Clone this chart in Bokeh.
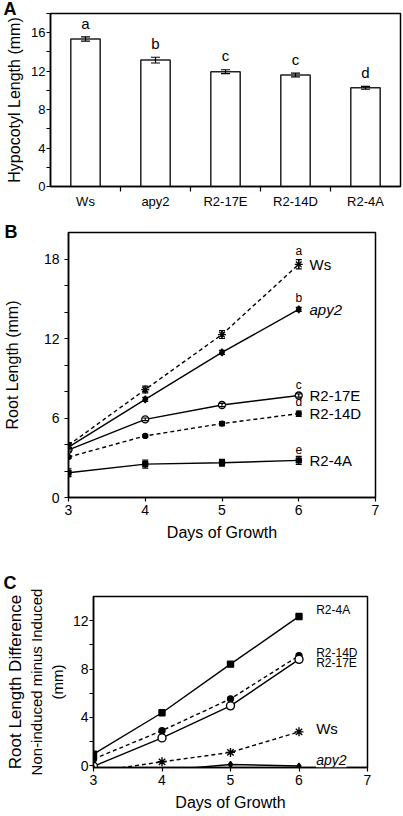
import math
from bokeh.plotting import figure
from bokeh.models import (Range1d, FixedTicker, ColumnDataSource, Whisker, TeeHead, Label,
                          LinearAxis, Title)
from bokeh.embed import file_html
from bokeh.resources import INLINE
from bokeh.core.properties import value

FONT = "Liberation Sans"

# ---------------- Panel A data ----------------
a_categories = ["Ws", "apy2", "R2-17E", "R2-14D", "R2-4A"]
a_hypocotyl = [15.35, 13.15, 11.95, 11.6, 10.27]
a_errors = [0.22, 0.3, 0.2, 0.2, 0.15]
a_letters = ["a", "b", "c", "c", "d"]
a_yticks = [0, 4, 8, 12, 16]
a_yminor = [2, 6, 10, 14, 18]

# ---------------- Panel B data ----------------
days = [3, 4, 5, 6]
day_ticks = [3, 4, 5, 6, 7]
b_ws = [3.95, 8.15, 12.3, 17.6]
b_ws_err = [0.2, 0.25, 0.3, 0.35]
b_apy2 = [3.8, 7.4, 10.95, 14.2]
b_apy2_err = [0.15, 0.15, 0.15, 0.15]
b_r17e = [3.6, 5.9, 6.98, 7.7]
b_r17e_err = [0.1, 0.1, 0.12, 0.12]
b_r14d = [3.05, 4.65, 5.58, 6.33]
b_r14d_err = [0.1, 0.1, 0.15, 0.2]
b_r4a = [1.87, 2.52, 2.62, 2.8]
b_r4a_err = [0.3, 0.3, 0.25, 0.3]
b_letters = ["a", "b", "c", "d", "e"]
b_yticks = [0, 6, 12, 18]
b_yminor = [2, 4, 8, 10, 14, 16]

# ---------------- Panel C data ----------------
c_r4a = [0.95, 4.38, 8.4, 12.35]
c_r14d = [0.55, 2.9, 5.53, 9.1]
c_r17e = [-0.05, 2.3, 4.95, 8.8]
c_ws = [-0.5, 0.32, 1.1, 2.8]
c_apy2 = [-0.25, -0.4, 0.1, -0.03]
c_yticks = [0, 4, 8, 12]
c_yminor = [2, 6, 10]


def style(p, tick_size="14px"):
    p.outline_line_color = "black"
    p.outline_line_width = 1.5
    p.grid.visible = False
    p.background_fill_color = "white"
    p.border_fill_color = "white"
    for ax in list(p.xaxis) + list(p.yaxis):
        ax.axis_line_color = "black"
        ax.axis_line_width = 1.5
        ax.major_tick_line_color = "black"
        ax.major_tick_line_width = 1.2
        ax.minor_tick_line_color = "black"
        ax.minor_tick_line_width = 1.2
        ax.major_tick_in = 0
        ax.major_tick_out = 4
        ax.minor_tick_in = 0
        ax.minor_tick_out = 4
        ax.major_label_standoff = 3
        ax.major_label_text_font = FONT
        ax.major_label_text_font_size = tick_size
        ax.major_label_text_color = "black"
        ax.axis_label_text_font = FONT
        ax.axis_label_text_font_style = "normal"
        ax.axis_label_text_font_size = "16px"
        ax.axis_label_text_color = "black"
        ax.axis_label_standoff = 6


def panel_title(letter, left_border, standoff):
    return Title(text=letter, align="left", offset=-left_border + 3, standoff=standoff,
                 text_font=FONT, text_font_size="18px", text_font_style="bold",
                 text_color="black")


W = 403

# ================= Panel A =================
A_L, A_R, A_T, A_B, A_H = 50, 3, 13, 26, 212
pA = figure(width=W, height=A_H, x_range=Range1d(0, 5), y_range=Range1d(0, 18),
            output_backend="svg", toolbar_location=None,
            title=panel_title("A", A_L, -10),
            min_border_left=A_L, min_border_right=A_R, min_border_top=A_T, min_border_bottom=A_B)
style(pA, "13px")
pA.yaxis.major_label_standoff = 1
pA.yaxis.axis_label_standoff = 5
centers = [i + 0.5 for i in range(len(a_categories))]
pA.vbar(x=centers, top=a_hypocotyl, width=0.42, bottom=0, fill_color="white",
        line_color="#222222", line_width=1.5)
srcA = ColumnDataSource(dict(x=centers,
                             up=[v + e for v, e in zip(a_hypocotyl, a_errors)],
                             lo=[v - e for v, e in zip(a_hypocotyl, a_errors)]))
pA.add_layout(Whisker(source=srcA, base="x", upper="up", lower="lo", line_color="black",
                      line_width=1.2, level="overlay",
                      upper_head=TeeHead(size=9, line_color="black", line_width=1.2),
                      lower_head=TeeHead(size=9, line_color="black", line_width=1.2)))
pA.text(x=centers, y=[v + e + 0.55 for v, e in zip(a_hypocotyl, a_errors)], text=a_letters,
        text_font=value(FONT), text_font_size="15px", text_align="center",
        text_baseline="bottom", text_color="black")
pA.xaxis.ticker = FixedTicker(ticks=centers, minor_ticks=[1, 2, 3, 4])
pA.xaxis.major_tick_line_color = None
pA.xaxis.minor_tick_out = 5
pA.xaxis.major_tick_out = 5
pA.xaxis.major_label_standoff = 2
pA.xaxis.major_label_overrides = {c: n for c, n in zip(centers, a_categories)}
pA.yaxis.ticker = FixedTicker(ticks=a_yticks, minor_ticks=a_yminor)
pA.yaxis.axis_label = "Hypocotyl Length (mm)"

# ================= Panel B =================
B_L, B_R, B_T, B_B, B_H = 67, 28, 20, 56, 341
pB = figure(width=W, height=B_H, x_range=Range1d(3, 7), y_range=Range1d(0, 20),
            output_backend="svg", toolbar_location=None,
            title=panel_title("B", B_L, -18),
            min_border_left=B_L, min_border_right=B_R, min_border_top=B_T, min_border_bottom=B_B)
style(pB, "14px")
pB.yaxis.major_label_standoff = 5
pB.yaxis.axis_label_standoff = 20
b_data = [
    (b_ws, b_ws_err, "dashed", "asterisk", 8, "black"),
    (b_apy2, b_apy2_err, "solid", "diamond", 7, "black"),
    (b_r17e, b_r17e_err, "solid", "circle", 7, "white"),
    (b_r14d, b_r14d_err, "dashed", "circle", 5, "black"),
    (b_r4a, b_r4a_err, "solid", "square", 5, "black"),
]
wx, wu, wl = [], [], []
for vals, errs, dash, mk, sz, fc in b_data:
    pB.line(days, vals, line_color="black", line_width=1.4,
            line_dash=("4 3" if dash == "dashed" else "solid"))
    pB.scatter(days, vals, marker=mk, size=sz, line_color="black", fill_color=fc, line_width=1.3)
    wx += days
    wu += [v + e for v, e in zip(vals, errs)]
    wl += [v - e for v, e in zip(vals, errs)]
srcB = ColumnDataSource(dict(x=wx, up=wu, lo=wl))
pB.add_layout(Whisker(source=srcB, base="x", upper="up", lower="lo", line_color="black",
                      line_width=1.2, level="overlay",
                      upper_head=TeeHead(size=6, line_color="black", line_width=1.2),
                      lower_head=TeeHead(size=6, line_color="black", line_width=1.2)))
last_vals = [d[0][-1] for d in b_data]
last_errs = [d[1][-1] for d in b_data]
pB.text(x=[6] * 5, y=[v + e + 0.15 for v, e in zip(last_vals, last_errs)], text=b_letters,
        text_font=value(FONT), text_font_size="12px", text_align="center",
        text_baseline="bottom", text_color="black")
b_names = ["Ws", "apy2", "R2-17E", "R2-14D", "R2-4A"]
for name, v in zip(b_names, last_vals):
    pB.add_layout(Label(x=6.14, y=v, text=name, text_font=FONT, text_font_size="15px",
                        text_font_style=("italic" if name == "apy2" else "normal"),
                        text_align="left", text_baseline="middle", text_color="black"))
pB.xaxis.ticker = FixedTicker(ticks=day_ticks)
pB.xaxis.axis_label = "Days of Growth"
pB.yaxis.ticker = FixedTicker(ticks=b_yticks, minor_ticks=b_yminor)
pB.yaxis.axis_label = "Root Length (mm)"

# ================= Panel C =================
C_L, C_R, C_T, C_B, C_H = 93, 36, 43, 49, 263
pC = figure(width=W, height=C_H, x_range=Range1d(3, 7), y_range=Range1d(-0.15, 14),
            output_backend="svg", toolbar_location=None,
            title=panel_title("C", C_L, 8),
            min_border_left=C_L, min_border_right=C_R, min_border_top=C_T, min_border_bottom=C_B)
style(pC, "14px")
pC.yaxis.major_label_standoff = 1
c_data = [
    (c_r4a, "solid", "square", 6, "black"),
    (c_r14d, "dashed", "circle", 6, "black"),
    (c_r17e, "solid", "circle", 8, "white"),
    (c_ws, "dashed", "asterisk", 9, "black"),
    (c_apy2, "solid", "diamond", 6, "black"),
]
for vals, dash, mk, sz, fc in c_data:
    pC.line(days, vals, line_color="black", line_width=1.4,
            line_dash=("4 3" if dash == "dashed" else "solid"))
    pC.scatter(days, vals, marker=mk, size=sz, line_color="black", fill_color=fc, line_width=1.4)
c_labels = [("R2-4A", 12.9, "12px"), ("R2-14D", 9.35, "12px"),
            ("R2-17E", 8.5, "12px"), ("Ws", 3.05, "15px")]
for name, yy, fs in c_labels:
    pC.add_layout(Label(x=6.25, y=yy, text=name, text_font=FONT, text_font_size=fs,
                        text_align="left", text_baseline="middle", text_color="black"))
pC.add_layout(Label(x=6.25, y=0, y_units="screen", text="apy2", text_font=FONT,
                    text_font_size="14px", text_font_style="italic", text_align="left",
                    text_baseline="bottom", text_color="black", background_fill_color="white"))
pC.xaxis.ticker = FixedTicker(ticks=day_ticks)
pC.xaxis.axis_label = "Days of Growth"
pC.yaxis.ticker = FixedTicker(ticks=c_yticks, minor_ticks=c_yminor)
pC.yaxis.axis_label = "(mm)"
pC.yaxis.axis_label_text_font_size = "15px"
pC.yaxis.axis_label_standoff = 4
for txt, fs, so in [("Non-induced minus Induced", "15px", 1), ("Root Length Difference", "17px", 0)]:
    ax = LinearAxis(ticker=FixedTicker(ticks=[]), axis_label=txt, axis_line_color=None,
                    major_tick_line_color=None, minor_tick_line_color=None,
                    major_tick_out=0, major_tick_in=0, minor_tick_out=0, minor_tick_in=0,
                    major_label_standoff=0,
                    major_label_text_font_size="0px", axis_label_standoff=so,
                    axis_label_text_font=FONT, axis_label_text_font_size=fs,
                    axis_label_text_font_style="normal", axis_label_text_color="black")
    pC.add_layout(ax, "left")

open("out.html", "w").write(file_html([pA, pB, pC], INLINE))
